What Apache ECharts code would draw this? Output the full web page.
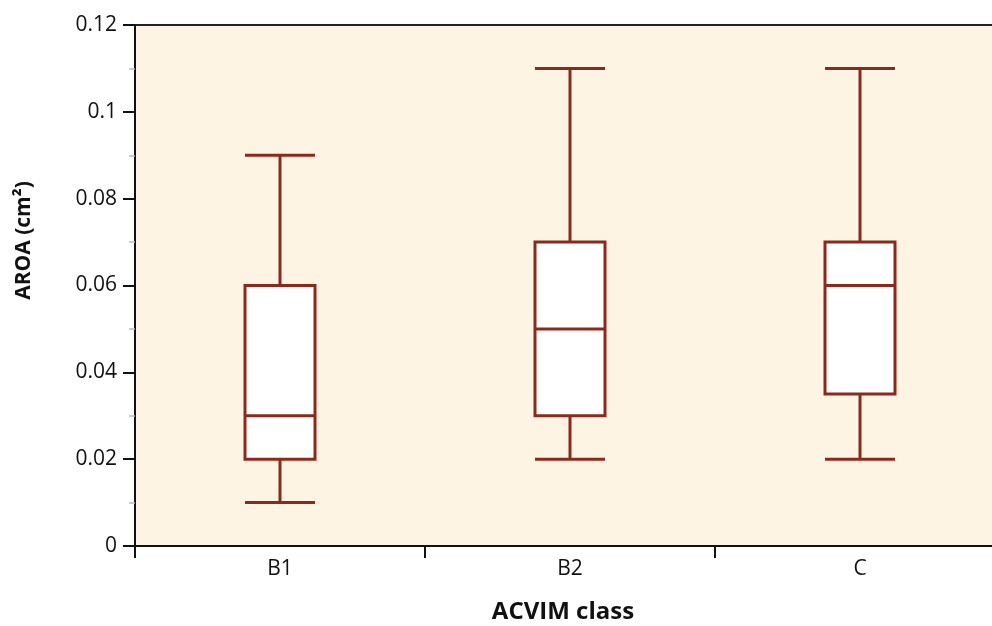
<!DOCTYPE html>
<html>
<head>
<meta charset="utf-8">
<script src="https://cdn.jsdelivr.net/npm/echarts@6/dist/echarts.min.js"></script>
<style>
  html, body { margin: 0; padding: 0; background: #fff; }
  #container { width: 992px; height: 626px; }
</style>
</head>
<body>
<div id="container"></div>
<script>
// ACVIM class categories and box stats [min, Q1, median, Q3, max]
const classes = ['B1', 'B2', 'C'];
const mins    = [0.01, 0.02, 0.02];
const q1s     = [0.02, 0.03, 0.035];
const medians = [0.03, 0.05, 0.06];
const q3s     = [0.06, 0.07, 0.07];
const maxs    = [0.09, 0.11, 0.11];

let boxData = classes.map(function (c, i) {
    return [mins[i], q1s[i], medians[i], q3s[i], maxs[i]];
});

let dom = document.getElementById('container');
let myChart = echarts.init(dom);

let fontFamily = '"Open Sans", "Noto Sans", sans-serif';

let option = {
    animation: false,
    grid: {
        left: 135,
        top: 25,
        width: 870,
        bottom: 80,
        outerBoundsMode: 'none',
        containLabel: false,
        show: true,
        backgroundColor: '#FEF4E4',
        borderColor: '#222',
        borderWidth: 2
    },
    xAxis: {
        type: 'category',
        data: classes,
        name: 'ACVIM class',
        nameLocation: 'middle',
        nameGap: 54,
        nameTextStyle: {
            fontFamily: fontFamily,
            fontSize: 24,
            fontWeight: 'bold',
            color: '#111',
            padding: [0, 14, 0, 0]
        },
        axisLine: { lineStyle: { color: '#111', width: 2 } },
        axisTick: { show: true, length: 12, lineStyle: { color: '#111', width: 2 } },
        axisLabel: {
            margin: 13,
            fontFamily: fontFamily,
            fontSize: 21,
            color: '#111'
        },
        splitLine: { show: false }
    },
    yAxis: {
        type: 'value',
        min: 0,
        max: 0.12,
        interval: 0.02,
        name: 'AROA (cm²)',
        nameLocation: 'middle',
        nameGap: 100,
        nameTextStyle: {
            fontFamily: fontFamily,
            fontSize: 21,
            fontWeight: 'bold',
            color: '#111',
            padding: [0, 0, 0, 90]
        },
        axisLine: { show: true, lineStyle: { color: '#111', width: 2 } },
        axisTick: { show: true, length: 12, lineStyle: { color: '#111', width: 2 } },
        minorTick: { show: true, splitNumber: 2, length: 6, lineStyle: { color: '#bbb', width: 1.5 } },
        axisLabel: {
            margin: 18,
            fontFamily: fontFamily,
            fontSize: 21,
            color: '#111',
            formatter: function (v) { return String(Math.round(v * 100) / 100); }
        },
        splitLine: { show: false }
    },
    series: [
        {
            type: 'boxplot',
            data: boxData,
            boxWidth: [70, 70],
            itemStyle: {
                color: '#fff',
                borderColor: '#8B2A1C',
                borderWidth: 3
            }
        }
    ]
};
myChart.setOption(option);
</script>
</body>
</html>
